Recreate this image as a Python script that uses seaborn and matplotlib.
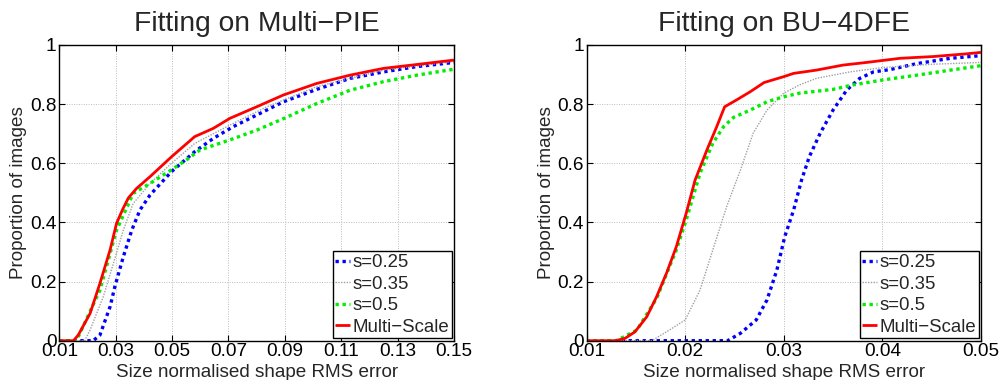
import numpy as np
import pandas as pd
import matplotlib
matplotlib.use("Agg")
import matplotlib.pyplot as plt
import seaborn as sns

# ---------------- data ----------------
labels = ["s=0.25", "s=0.35", "s=0.5", "Multi\u2212Scale"]

# Left: Fitting on Multi-PIE
mp_red_x = [0.010, 0.015, 0.0167, 0.0209, 0.0244, 0.028, 0.0303, 0.0325, 0.0345, 0.0374, 0.0422, 0.0498,
            0.058, 0.0646, 0.0705, 0.080, 0.0895, 0.1013, 0.1131, 0.125, 0.1368, 0.150]
mp_red_y = [0.0, 0.0, 0.019, 0.092, 0.194, 0.307, 0.397, 0.445, 0.483, 0.515, 0.555, 0.622,
            0.69, 0.718, 0.752, 0.791, 0.831, 0.870, 0.898, 0.921, 0.934, 0.949]
mp_blue_x = [0.010, 0.022, 0.0244, 0.028, 0.0297, 0.0327, 0.0357, 0.0386, 0.0422, 0.0498, 0.058,
             0.0646, 0.0717, 0.080, 0.0895, 0.1013, 0.1131, 0.125, 0.1368, 0.150]
mp_blue_y = [0.0, 0.0, 0.019, 0.115, 0.183, 0.284, 0.374, 0.442, 0.493, 0.572, 0.639,
             0.684, 0.724, 0.763, 0.808, 0.850, 0.887, 0.909, 0.927, 0.941]
mp_gray_x = [0.010, 0.019, 0.0209, 0.0256, 0.0292, 0.0327, 0.0362, 0.0422, 0.0498, 0.058,
             0.0717, 0.0836, 0.1013, 0.125, 0.150]
mp_gray_y = [0.0, 0.0, 0.036, 0.149, 0.262, 0.374, 0.464, 0.532, 0.600, 0.667,
             0.735, 0.791, 0.859, 0.915, 0.944]
mp_green_x = [0.010, 0.016, 0.0173, 0.0244, 0.0303, 0.0362, 0.0422, 0.0498, 0.055, 0.0599,
              0.0705, 0.080, 0.0895, 0.1013, 0.1131, 0.125, 0.1368, 0.150]
mp_green_y = [0.0, 0.0, 0.025, 0.171, 0.374, 0.498, 0.532, 0.578, 0.611, 0.645,
              0.679, 0.712, 0.751, 0.802, 0.847, 0.876, 0.898, 0.918]

# Right: Fitting on BU-4DFE
bu_red_x = [0.010, 0.0129, 0.0139, 0.0149, 0.0161, 0.0171, 0.0181, 0.0191, 0.0201, 0.0210, 0.0222,
            0.0232, 0.0240, 0.0252, 0.0266, 0.0280, 0.0300, 0.0310, 0.0333, 0.0360, 0.0384,
            0.0418, 0.0452, 0.0485, 0.050]
bu_red_y = [0.0, 0.0, 0.008, 0.030, 0.081, 0.149, 0.228, 0.318, 0.431, 0.543, 0.645,
            0.724, 0.791, 0.814, 0.842, 0.873, 0.893, 0.904, 0.915, 0.932, 0.941,
            0.955, 0.961, 0.970, 0.975]
bu_blue_x = [0.010, 0.0243, 0.0256, 0.0272, 0.0283, 0.0293, 0.0301, 0.0310, 0.0318, 0.0326,
             0.0337, 0.0350, 0.0364, 0.0377, 0.0391, 0.0408, 0.0435, 0.0469, 0.050]
bu_blue_y = [0.0, 0.0, 0.025, 0.070, 0.138, 0.239, 0.352, 0.442, 0.543, 0.623,
             0.702, 0.780, 0.848, 0.887, 0.909, 0.917, 0.937, 0.955, 0.964]
bu_gray_x = [0.010, 0.0166, 0.0181, 0.0200, 0.0215, 0.0228, 0.0242, 0.0256, 0.0269, 0.0283,
             0.0300, 0.0316, 0.0333, 0.0367, 0.0401, 0.0452, 0.050]
bu_gray_y = [0.0, 0.0, 0.030, 0.070, 0.171, 0.307, 0.453, 0.577, 0.702, 0.780,
             0.837, 0.865, 0.887, 0.909, 0.924, 0.935, 0.941]
bu_green_x = [0.010, 0.0130, 0.0151, 0.0171, 0.0191, 0.0201, 0.0215, 0.0228, 0.0239, 0.0249,
              0.0266, 0.0283, 0.0300, 0.0316, 0.0350, 0.0370, 0.0401, 0.0435, 0.0469, 0.050]
bu_green_y = [0.0, 0.0, 0.036, 0.143, 0.307, 0.408, 0.566, 0.668, 0.724, 0.755,
              0.780, 0.808, 0.825, 0.837, 0.850, 0.865, 0.882, 0.898, 0.915, 0.930]

titles = ["Fitting on Multi\u2212PIE", "Fitting on BU\u22124DFE"]
xlabel = "Size normalised shape RMS error"
ylabel = "Proportion of images"
left_xticks = [0.01, 0.03, 0.05, 0.07, 0.09, 0.11, 0.13, 0.15]
left_xticklabels = ["0.01", "0.03", "0.05", "0.07", "0.09", "0.11", "0.13", "0.15"]
right_xticks = [0.01, 0.02, 0.03, 0.04, 0.05]
right_xticklabels = ["0.01", "0.02", "0.03", "0.04", "0.05"]
yticks = [0, 0.2, 0.4, 0.6, 0.8, 1.0]
yticklabels = ["0", "0.2", "0.4", "0.6", "0.8", "1"]

# ---------------- styling ----------------
sns.set_theme(style="ticks")
plt.rcParams["font.family"] = ["Liberation Sans", "DejaVu Sans"]
plt.rcParams["axes.unicode_minus"] = True

styles = {
    "s=0.25": dict(color="#0000ff", lw=2.4, ls=(0, (1, 1.1))),
    "s=0.35": dict(color="#a0a0a0", lw=1.0, ls=(0, (1, 1))),
    "s=0.5": dict(color="#00ee00", lw=2.4, ls=(0, (1, 1.1))),
    "Multi\u2212Scale": dict(color="#ff0000", lw=2.0, ls="-"),
}

def build_df(series):
    frames = []
    for lab, (xs, ys) in zip(labels, series):
        frames.append(pd.DataFrame({"x": xs, "y": ys, "series": lab}))
    return pd.concat(frames, ignore_index=True)

fig = plt.figure(figsize=(10.04, 3.80), dpi=100)
ax1 = fig.add_axes([0.0591, 0.1034, 0.3931, 0.7782])
ax2 = fig.add_axes([0.5843, 0.1034, 0.3927, 0.7782])

panels = [
    (ax1, build_df([(mp_blue_x, mp_blue_y), (mp_gray_x, mp_gray_y),
                    (mp_green_x, mp_green_y), (mp_red_x, mp_red_y)]),
     (0.01, 0.15), left_xticks, left_xticklabels, titles[0]),
    (ax2, build_df([(bu_blue_x, bu_blue_y), (bu_gray_x, bu_gray_y),
                    (bu_green_x, bu_green_y), (bu_red_x, bu_red_y)]),
     (0.01, 0.05), right_xticks, right_xticklabels, titles[1]),
]

for ax, df, xlim, xt, xtl, title in panels:
    for lab in labels:
        st = styles[lab]
        sub = df[df["series"] == lab]
        sns.lineplot(data=sub, x="x", y="y", ax=ax, color=st["color"],
                     linewidth=st["lw"], label=lab, sort=False, estimator=None)
        line = ax.get_lines()[-1]
        line.set_linestyle(st["ls"])
        line.set_dash_capstyle("butt")
        line.set_solid_capstyle("butt")
        line.set_solid_joinstyle("round")
    ax.set_xlim(*xlim)
    ax.set_ylim(0, 1)
    ax.set_xticks(xt)
    ax.set_xticklabels(xtl)
    ax.set_yticks(yticks)
    ax.set_yticklabels(yticklabels)
    ax.grid(True, color="#bcbcbc", linestyle=(0, (1, 1.5)), linewidth=0.7)
    ax.set_axisbelow(True)
    for sp in ax.spines.values():
        sp.set_visible(True)
        sp.set_color("black")
        sp.set_linewidth(1.0)
    ax.tick_params(direction="in", top=True, right=True, length=4, width=0.8,
                   labelsize=13.7, pad=2, colors="black")
    ax.set_title(title, fontsize=20.3, pad=10)
    ax.set_xlabel(xlabel, fontsize=13.6, labelpad=2.5)
    ax.set_ylabel(ylabel, fontsize=13.6, labelpad=2)
    leg = ax.legend(loc="lower right", fontsize=13.4, frameon=True, fancybox=False,
                    edgecolor="black", framealpha=1, handlelength=0.8,
                    handletextpad=0.1, labelspacing=0.24, borderpad=0.15,
                    borderaxespad=0.12)
    leg.get_frame().set_linewidth(1.0)
    for h, lab in zip(leg.get_lines(), labels):
        h.set_linestyle(styles[lab]["ls"])
        h.set_linewidth(styles[lab]["lw"])

fig.savefig("out.png", dpi=100)
